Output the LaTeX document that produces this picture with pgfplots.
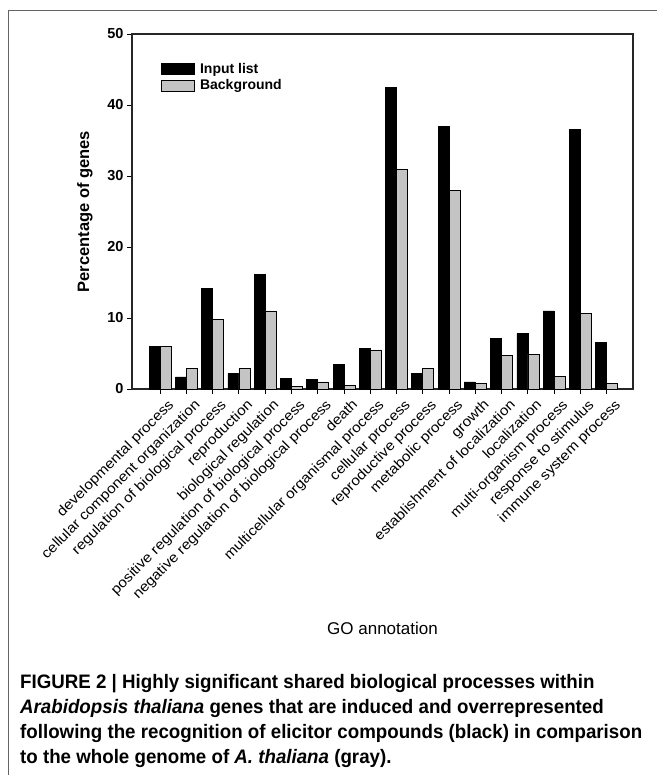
\documentclass[border=0pt]{standalone}
\usepackage{fontspec}
\setmainfont{Liberation Sans}
\newfontfamily\capfont[FakeStretch=0.96]{Liberation Sans}
\newfontfamily\tickfont[FakeStretch=1.1]{Liberation Sans}
\usepackage{pgfplots}
\pgfplotsset{compat=1.18}
\definecolor{bggray}{RGB}{196,196,196}
\definecolor{framegray}{RGB}{100,100,100}

\begin{document}
\begin{tikzpicture}
\useasboundingbox (0,0) rectangle (657pt,-775pt);
\draw[framegray, line width=1pt] (8pt,-775pt) -- (8pt,-11pt) -- (657pt,-11pt);

\begin{axis}[
    at={(132pt,-389pt)}, anchor=south west,
    scale only axis, width=501pt, height=355pt,
    xmin=-1.07, xmax=18, ymin=0, ymax=50,
    ybar, bar width=11pt,
    xtick={0,...,17},
    xticklabels={developmental process, cellular component organization,
        regulation of biological process, reproduction, biological regulation,
        positive regulation of biological process,
        negative regulation of biological process, death,
        multicellular organismal process, cellular process,
        reproductive process, metabolic process, growth,
        establishment of localization, localization,
        multi-organism process, response to stimulus, immune system process},
    x tick label style={rotate=45, anchor=north east, inner sep=1pt,
        xshift=3pt, yshift=-7pt,
        font=\tickfont\fontsize{14}{16}\selectfont},
    ytick={0,10,...,50},
    yticklabel style={font=\bfseries\fontsize{14.5}{16}\selectfont},
    /pgf/number format/assume math mode=true,
    xtick pos=bottom, ytick pos=left,
    tick align=outside, major tick length=5pt,
    tick style={black, line width=1pt},
    axis line style={black!85, line width=1.2pt},
    ylabel={Percentage of genes},
    ylabel style={font=\bfseries\fontsize{16.5}{18}\selectfont,
        at={(axis description cs:-0.094,0.5)}, anchor=center},
    xlabel={GO annotation},
    xlabel style={font=\fontsize{17}{19}\selectfont,
        at={(axis description cs:0.5,-0.673)}, anchor=center},
    legend style={at={(0.058,0.924)}, anchor=north west, draw=none, fill=none,
        inner sep=0pt, row sep=1pt, font=\bfseries\fontsize{14}{16}\selectfont,
        /tikz/every odd column/.append style={column sep=3pt}},
    legend cell align=left,
]

\addplot[fill=black, draw=black, line width=0.8pt, bar shift=-5.5pt,
    legend image code/.code={\draw[fill=black, draw=black, line width=0.8pt] (0pt,-5.5pt) rectangle (33pt,5.5pt);}]
    coordinates {
    (0,6.0)(1,1.7)(2,14.1)(3,2.2)(4,16.1)(5,1.5)(6,1.3)(7,3.5)(8,5.7)
    (9,42.5)(10,2.2)(11,37.0)(12,1.0)(13,7.1)(14,7.8)(15,11.0)(16,36.6)(17,6.5)};
\addplot[fill=bggray, draw=black, line width=0.8pt, bar shift=5.5pt,
    legend image code/.code={\draw[fill=bggray, draw=black, line width=0.8pt] (0pt,-5.5pt) rectangle (33pt,5.5pt);}]
    coordinates {
    (0,6.0)(1,2.9)(2,9.8)(3,2.9)(4,11.0)(5,0.4)(6,1.0)(7,0.5)(8,5.5)
    (9,30.9)(10,2.9)(11,28.0)(12,0.8)(13,4.7)(14,4.9)(15,1.8)(16,10.6)(17,0.8)};
\legend{Input list, Background}
\end{axis}

\begin{scope}[every node/.style={anchor=base west, inner sep=0pt,
        font=\capfont\bfseries\fontsize{19.5}{25}\selectfont}]
\node at (20pt,-688pt) {FIGURE 2 | Highly significant shared biological processes within};
\node at (20pt,-713pt) {\textit{Arabidopsis thaliana} genes that are induced and overrepresented};
\node at (20pt,-738pt) {following the recognition of elicitor compounds (black) in comparison};
\node at (20pt,-763pt) {to the whole genome of \textit{A. thaliana} (gray).};
\end{scope}
\end{tikzpicture}
\end{document}
